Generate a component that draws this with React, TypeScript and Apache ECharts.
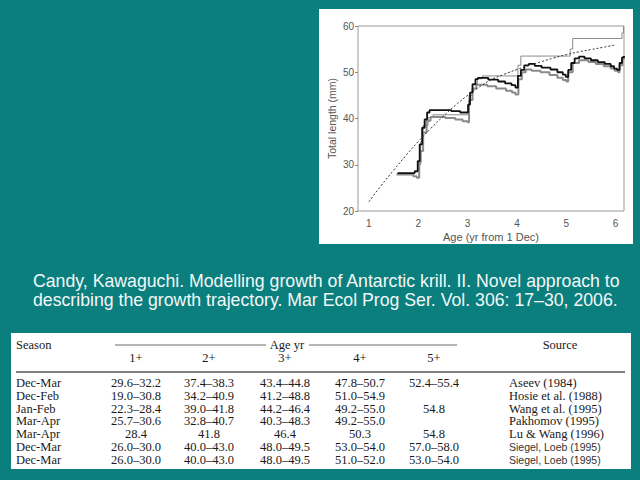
import React, { useEffect, useRef } from "react";
import * as echarts from "echarts";

// ---- chart data ----
const xTicks = [1, 2, 3, 4, 5, 6];
const fitAges = [1.0, 1.25, 1.5, 1.75, 2.0, 2.25, 2.5, 2.75, 3.0, 3.25, 3.5, 3.75, 4.0, 4.25, 4.5, 4.75, 5.0, 5.25, 5.5, 5.75, 6.0];
const fitLengths = [22.0, 25.5, 28.8, 32.0, 35.0, 37.8, 40.4, 42.8, 45.0, 46.9, 48.5, 49.6, 50.6, 51.5, 52.3, 53.1, 53.8, 54.4, 54.9, 55.4, 55.9];

const meanAges = [1.58, 1.93, 1.99, 2.03, 2.08, 2.13, 2.18, 2.23, 2.67, 2.85, 3.01, 3.05, 3.1, 3.16, 3.21, 3.42, 3.62, 3.76, 3.89, 3.97, 4.02, 4.08, 4.15, 4.24, 4.36, 4.5, 4.68, 4.82, 4.93, 4.99, 5.04, 5.1, 5.17, 5.26, 5.37, 5.5, 5.64, 5.78, 5.9, 5.97, 6.03, 6.08, 6.13, 6.17];
const meanLengths = [28.2, 28.6, 30.8, 34.4, 38.0, 39.8, 41.3, 41.8, 41.6, 41.3, 43.0, 45.6, 47.4, 48.5, 48.8, 48.4, 48.0, 47.6, 47.2, 46.7, 49.2, 50.5, 51.5, 51.8, 51.4, 51.0, 50.6, 50.0, 49.5, 49.0, 50.5, 52.0, 53.0, 53.4, 53.0, 52.6, 52.2, 51.8, 51.3, 50.8, 50.5, 52.0, 53.2, 53.5];

const lowerAges = [1.56, 1.9, 1.97, 2.02, 2.05, 2.1, 2.17, 2.25, 2.55, 2.75, 2.9, 3.0, 3.03, 3.1, 3.18, 3.4, 3.58, 3.78, 3.9, 3.97, 4.03, 4.1, 4.18, 4.3, 4.48, 4.66, 4.82, 4.93, 5.0, 5.04, 5.13, 5.26, 5.45, 5.6, 5.76, 5.9, 5.98, 6.05, 6.08, 6.14, 6.17];
const lowerLengths = [27.9, 27.5, 27.2, 30.5, 33.0, 37.0, 39.5, 40.3, 40.1, 39.8, 39.4, 39.2, 44.0, 46.5, 47.3, 47.0, 46.5, 46.0, 45.6, 45.2, 48.5, 50.0, 50.6, 50.3, 50.0, 49.4, 48.8, 48.3, 48.0, 50.0, 52.0, 52.6, 52.2, 51.8, 51.3, 50.8, 50.3, 50.0, 51.5, 53.0, 53.2];

const upperAges = [2.0, 2.05, 2.1, 2.2, 2.3, 2.95, 3.03, 3.1, 3.2, 3.3, 3.98, 4.02, 4.08, 5.05, 5.08, 5.13, 6.1, 6.13, 6.16];
const upperLengths = [30.0, 35.0, 38.5, 40.2, 40.8, 40.8, 45.0, 47.5, 48.6, 49.2, 49.2, 51.5, 53.5, 53.5, 55.0, 57.3, 57.3, 58.5, 60.0];

// ---- caption ----
const captionLines = [
  "Candy, Kawaguchi. Modelling growth of Antarctic krill. II. Novel approach to",
  "describing the growth trajectory. Mar Ecol Prog Ser. Vol. 306: 17\u201330, 2006.",
];

// ---- table data ----
const ageHeaders = ["1+", "2+", "3+", "4+", "5+"];
const seasons = ["Dec-Mar", "Dec-Feb", "Jan-Feb", "Mar-Apr", "Mar-Apr", "Dec-Mar", "Dec-Mar"];
const age1 = ["29.6\u201332.2", "19.0\u201330.8", "22.3\u201328.4", "25.7\u201330.6", "28.4", "26.0\u201330.0", "26.0\u201330.0"];
const age2 = ["37.4\u201338.3", "34.2\u201340.9", "39.0\u201341.8", "32.8\u201340.7", "41.8", "40.0\u201343.0", "40.0\u201343.0"];
const age3 = ["43.4\u201344.8", "41.2\u201348.8", "44.2\u201346.4", "40.3\u201348.3", "46.4", "48.0\u201349.5", "48.0\u201349.5"];
const age4 = ["47.8\u201350.7", "51.0\u201354.9", "49.2\u201355.0", "49.2\u201355.0", "50.3", "53.0\u201354.0", "51.0\u201352.0"];
const age5 = ["52.4\u201355.4", "", "54.8", "", "54.8", "57.0\u201358.0", "53.0\u201354.0"];
const sources = ["Aseev (1984)", "Hosie et al. (1988)", "Wang et al. (1995)", "Pakhomov (1995)", "Lu & Wang (1996)", "Siegel, Loeb (1995)", "Siegel, Loeb (1995)"];
const sansSources = [false, false, false, false, false, true, true];

const TEAL = "#0a7f7e";
const SERIF = '"Liberation Serif", "Times New Roman", serif';
const SANS = '"Liberation Sans", Arial, sans-serif';

const zip = (a: number[], b: number[]) => a.map((v, i) => [v, b[i]]);

export default function App() {
  const ref = useRef<HTMLDivElement>(null);
  useEffect(() => {
    if (!ref.current) return;
    const chart = echarts.init(ref.current, undefined, { renderer: "svg" });

    const colX = [136, 209, 285, 360, 434];
    const rowY0 = 383;
    const rowStep = 12.8;
    const ageCols = [age1, age2, age3, age4, age5];
    const tableText: any[] = [];
    const txt = (text: string, x: number, y: number, opts: any = {}) => ({
      type: "text",
      x,
      y,
      silent: true,
      style: {
        text,
        fill: opts.fill || "#1a1a1a",
        fontSize: opts.fontSize || 12.5,
        fontFamily: opts.fontFamily || SERIF,
        align: opts.align || "left",
        verticalAlign: "middle",
      },
    });
    tableText.push(txt("Season", 16, 345));
    tableText.push(txt("Age yr", 287, 345, { align: "center" }));
    tableText.push(txt("Source", 560, 345, { align: "center" }));
    ageHeaders.forEach((h, i) => tableText.push(txt(h, colX[i], 358, { align: "center" })));
    seasons.forEach((s, r) => {
      const y = rowY0 + r * rowStep;
      tableText.push(txt(s, 16, y));
      ageCols.forEach((col, c) => {
        if (col[r]) tableText.push(txt(col[r], colX[c], y, { align: "center" }));
      });
      tableText.push(
        sansSources[r]
          ? txt(sources[r], 509, y, { fontFamily: SANS, fontSize: 10.5, fill: "#333" })
          : txt(sources[r], 509, y)
      );
    });

    const lines = [
      { type: "line", silent: true, shape: { x1: 115, y1: 345, x2: 266, y2: 345 }, style: { stroke: "#444", lineWidth: 0.8 } },
      { type: "line", silent: true, shape: { x1: 309, y1: 345, x2: 457, y2: 345 }, style: { stroke: "#444", lineWidth: 0.8 } },
      { type: "line", silent: true, shape: { x1: 16, y1: 372, x2: 625, y2: 372 }, style: { stroke: "#555", lineWidth: 1.5 } },
    ];

    const caption = captionLines.map((t, i) => ({
      type: "text",
      x: 33,
      y: 281 + i * 18.5,
      silent: true,
      style: { text: t, fill: "#f4f8f8", fontSize: 17.7, fontFamily: SANS, align: "left", verticalAlign: "middle" },
    }));

    chart.setOption({
      animation: false,
      backgroundColor: "transparent",
      grid: {
        left: 358,
        top: 26,
        width: 266,
        height: 185,
        show: true,
        backgroundColor: "#fff",
        borderColor: "#999",
        borderWidth: 1,
      },
      xAxis: {
        type: "value",
        min: 0.78,
        max: 6.17,
        name: "Age (yr from 1 Dec)",
        nameLocation: "middle",
        nameGap: 20,
        nameTextStyle: { fontSize: 11, color: "#555", fontFamily: SANS },
        axisLine: { show: false },
        axisTick: { show: false },
        splitLine: { show: false },
        axisLabel: { customValues: xTicks, fontSize: 10, color: "#555", fontFamily: SANS, margin: 7 },
      },
      yAxis: {
        type: "value",
        min: 20,
        max: 60,
        interval: 10,
        name: "Total length (mm)",
        nameLocation: "middle",
        nameGap: 21,
        nameTextStyle: { fontSize: 10.5, color: "#555", fontFamily: SANS },
        axisLine: { show: false },
        axisTick: { show: true, length: 3, lineStyle: { color: "#888" } },
        splitLine: { show: false },
        axisLabel: { fontSize: 10, color: "#555", fontFamily: SANS, margin: 4 },
      },
      series: [
        {
          type: "line",
          step: "end",
          showSymbol: false,
          data: zip(lowerAges, lowerLengths),
          lineStyle: { color: "#8a8a8a", width: 2 },
          z: 2,
        },
        {
          type: "line",
          step: "end",
          showSymbol: false,
          data: zip(upperAges, upperLengths),
          lineStyle: { color: "#8a8a8a", width: 1 },
          z: 2,
        },
        {
          type: "line",
          step: "end",
          showSymbol: false,
          data: zip(meanAges, meanLengths),
          lineStyle: { color: "#111", width: 1.8 },
          z: 3,
        },
        {
          type: "line",
          smooth: true,
          showSymbol: false,
          data: zip(fitAges, fitLengths),
          lineStyle: { color: "#333", width: 1, type: [2, 2] },
          z: 4,
        },
      ],
      graphic: [...caption, ...lines, ...tableText],
    });
    return () => chart.dispose();
  }, []);

  return (
    <div style={{ position: "fixed", left: 0, top: 0, width: 640, height: 480, background: TEAL, overflow: "hidden" }}>
      <div style={{ position: "absolute", left: 319, top: 9, width: 314, height: 235, background: "#fff" }} />
      <div style={{ position: "absolute", left: 11, top: 333, width: 620, height: 136, background: "#fff" }} />
      <div ref={ref} style={{ position: "absolute", left: 0, top: 0, width: 640, height: 480 }} />
    </div>
  );
}
